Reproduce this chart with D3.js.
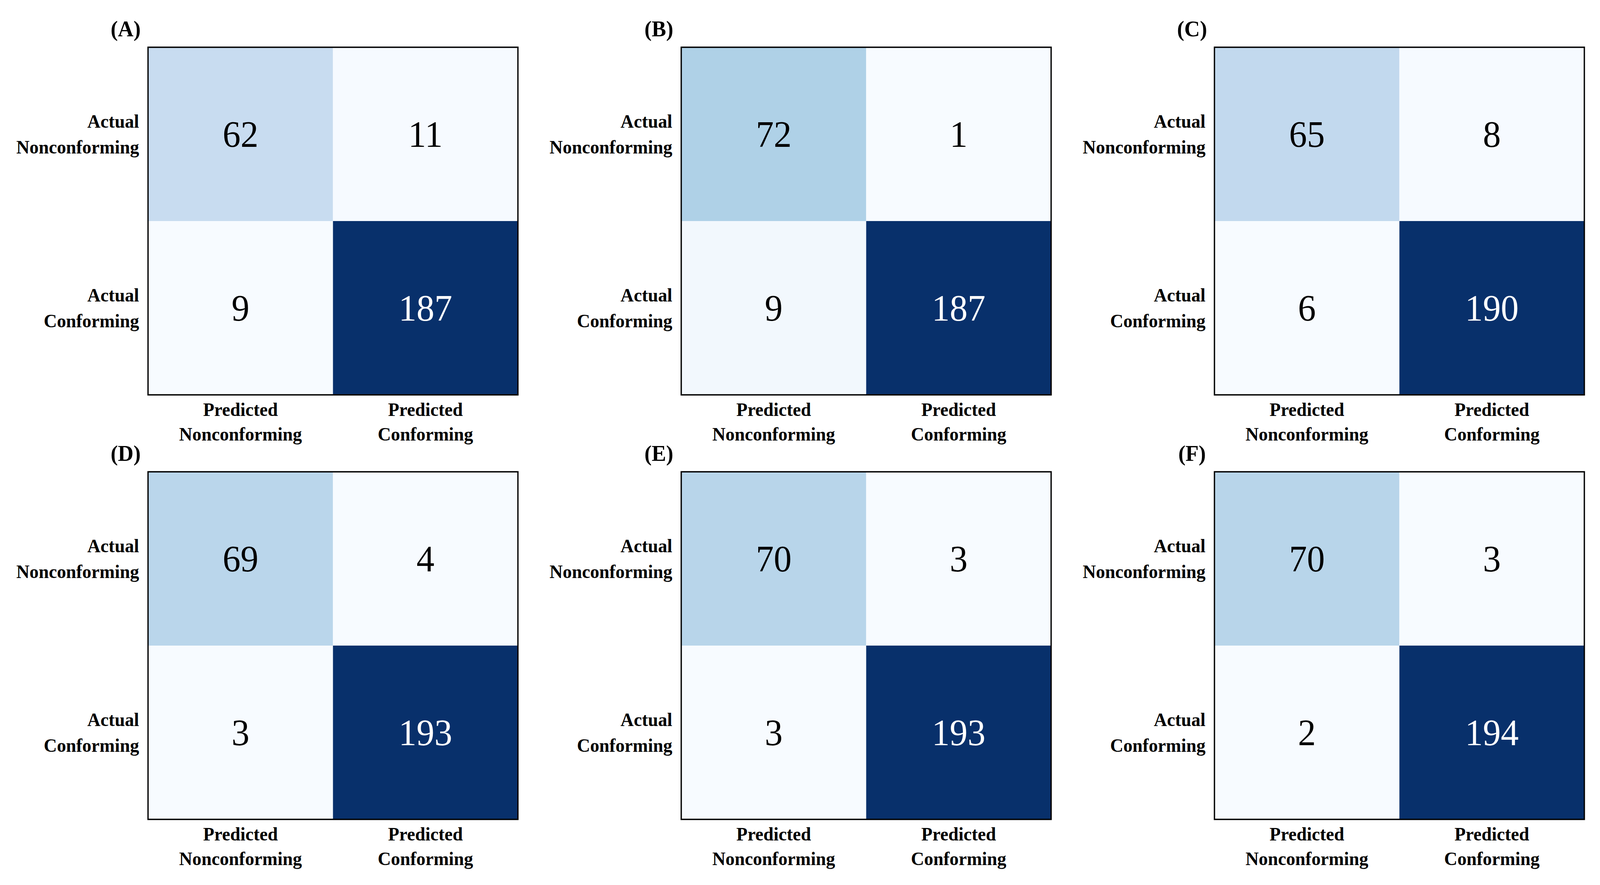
<!DOCTYPE html>
<html>
<head>
  <script src="https://cdnjs.cloudflare.com/ajax/libs/d3/7.8.5/d3.min.js"></script>
  <style>
    html, body { margin: 0; padding: 0; background: #fff; overflow: hidden; }
    svg { display: block; width: 100vw; height: 100vh; }
    .cell-border {
      fill: none;
      stroke: #000;
      stroke-width: 3.5;
    }
  </style>
</head>
<body>
  <div id="chart"></div>

  <script>
    // Panel titles and axis labels
    const panelIds = ["(A)", "(B)", "(C)", "(D)", "(E)", "(F)"];
    const rowLabels = [["Actual", "Nonconforming"], ["Actual", "Conforming"]];
    const colLabels = [["Predicted", "Nonconforming"], ["Predicted", "Conforming"]];

    // Confusion matrices, rows = actual, cols = predicted
    const cmA = [[62, 11], [9, 187]];
    const cmB = [[72, 1], [9, 187]];
    const cmC = [[65, 8], [6, 190]];
    const cmD = [[69, 4], [3, 193]];
    const cmE = [[70, 3], [3, 193]];
    const cmF = [[70, 3], [2, 194]];
    const matrices = [cmA, cmB, cmC, cmD, cmE, cmF];

    // Layout
    const W = 4291, H = 2266;
    const boxW = 992, boxH = 890;
    const left0 = 397, colStep = 1430;
    const top0 = 121, rowStep = 1087;
    const serif = "'Liberation Serif', 'Times New Roman', serif";

    // viewBox so the figure fills the window whatever its exact size
    const svg = d3.select("#chart")
      .append("svg")
        .attr("viewBox", `0 0 ${W} ${H}`)
        .attr("preserveAspectRatio", "none");

    svg.append("rect")
      .attr("width", W)
      .attr("height", H)
      .attr("fill", "#fff");

    const x = d3.scaleBand().domain([0, 1]).range([0, boxW]);
    const y = d3.scaleBand().domain([0, 1]).range([0, boxH]);

    matrices.forEach((cm, i) => {
      const gx = left0 + (i % 3) * colStep;
      const gy = top0 + Math.floor(i / 3) * rowStep;
      const g = svg.append("g").attr("transform", `translate(${gx},${gy})`);

      const flat = cm.flat();
      const vmin = d3.min(flat), vmax = d3.max(flat);
      // value -> 0..1 (slightly eased), then "Blues" stops
      const norm = d3.scalePow().exponent(1.18).domain([0, vmax - vmin]).range([0, 1]);
      const blues = d3.scaleLinear()
        .domain(d3.range(9).map(k => k / 8))
        .range(d3.schemeBlues[9]);
      const color = v => blues(norm(v - vmin));
      const thresh = (vmin + vmax) / 2;

      const cells = [];
      cm.forEach((row, r) => row.forEach((v, c) => cells.push({r, c, v})));

      g.selectAll(".cell")
        .data(cells)
        .join("rect")
          .attr("class", "cell")
          .attr("x", d => x(d.c))
          .attr("y", d => y(d.r))
          .attr("width", x.bandwidth())
          .attr("height", y.bandwidth())
          .attr("fill", d => color(d.v));

      g.selectAll(".value")
        .data(cells)
        .join("text")
          .attr("class", "value")
          .attr("x", d => x(d.c) + x.bandwidth() / 2)
          .attr("y", d => y(d.r) + y.bandwidth() / 2 + 33)
          .attr("text-anchor", "middle")
          .attr("font-family", serif)
          .attr("font-size", 96)
          .attr("fill", d => d.v > thresh ? "#fff" : "#000")
          .text(d => d.v);

      g.append("rect")
        .attr("class", "cell-border")
        .attr("width", boxW)
        .attr("height", boxH);

      // Bottom axis (predicted)
      g.append("g")
        .attr("transform", `translate(0,${boxH})`)
        .call(d3.axisBottom(x).tickSize(0).tickPadding(0).tickFormat(""))
        .attr("font-size", 49)
        .attr("font-family", serif)
        .attr("font-weight", "bold")
        .call(a => a.select(".domain").remove())
        .selectAll(".tick text")
          .attr("dy", null)
          .each(function(d) {
            const t = d3.select(this);
            colLabels[d].forEach((s, k) => {
              t.append("tspan").attr("x", 0).attr("y", 54 + k * 63).text(s);
            });
          });

      // Left axis (actual)
      g.append("g")
        .call(d3.axisLeft(y).tickSize(0).tickPadding(24).tickFormat(""))
        .attr("font-size", 49)
        .attr("font-family", serif)
        .attr("font-weight", "bold")
        .call(a => a.select(".domain").remove())
        .selectAll(".tick text")
          .attr("dy", null)
          .each(function(d) {
            const t = d3.select(this);
            rowLabels[d].forEach((s, k) => {
              t.append("tspan").attr("x", -24).attr("y", -16.5 + k * 66).text(s);
            });
          });

      // Panel id
      g.append("text")
        .attr("x", -60)
        .attr("y", -28)
        .attr("text-anchor", "middle")
        .attr("font-family", serif)
        .attr("font-weight", "bold")
        .attr("font-size", 58)
        .text(panelIds[i]);
    });
  </script>
</body>
</html>
